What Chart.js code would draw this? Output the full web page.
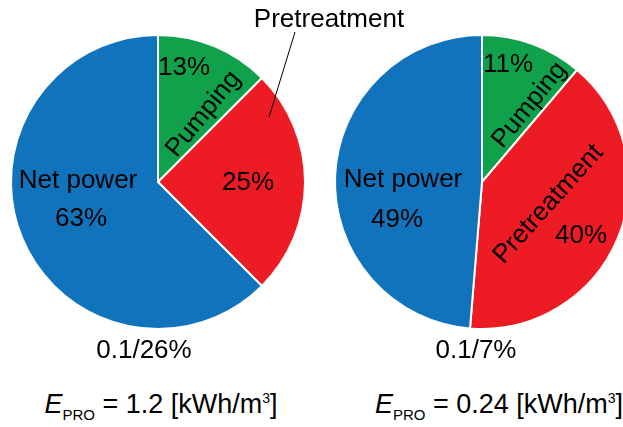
<!DOCTYPE html>
<html>
<head>
<meta charset="utf-8">
<script src="https://cdn.jsdelivr.net/npm/chart.js@4/dist/chart.umd.min.js"></script>
<style>
html, body { margin: 0; padding: 0; width: 623px; height: 427px; overflow: hidden; background: #fff; }
body { position: relative; font-family: "Liberation Sans", Arial, sans-serif; color: #000; }
.box { position: absolute; }
.cap { position: absolute; width: 300px; text-align: center; font-size: 26px; line-height: 30px; white-space: nowrap; }
.cap.energy { font-size: 27px; }
.cap i { font-style: italic; }
.sub { font-size: 15px; position: relative; top: 7px; }
.sup { font-size: 14px; position: relative; top: -10px; }
</style>
</head>
<body>
<div class="box" style="left:0;top:0;width:420px;height:340px"><canvas id="leftPie"></canvas></div>
<div class="box" style="left:320px;top:0;width:320px;height:340px"><canvas id="rightPie"></canvas></div>
<div class="cap" id="leftRatio" style="left:-6px;top:334px"></div>
<div class="cap" id="rightRatio" style="left:326px;top:334px"></div>
<div class="cap energy" id="leftEnergy" style="left:11px;top:389px"></div>
<div class="cap energy" id="rightEnergy" style="left:349px;top:389px"></div>
<script>
const categories = ['Pumping', 'Pretreatment', 'Net power'];
const sliceColors = ['#12a14b', '#ed1c24', '#1273bd'];
const leftShares = [12.5, 25, 62.5];
const rightShares = [11.2, 40.1, 48.7];
const ratioLabels = ['0.1/26%', '0.1/7%'];
const energyValues = ['1.2', '0.24'];

function pct(v) { return Math.round(v) + '%'; }

function sliceLabels(items, leader) {
    return {
        id: 'sliceLabels',
        afterDatasetsDraw: function (chart) {
            const arc = chart.getDatasetMeta(0).data[0];
            const ctx = chart.ctx;
            ctx.save();
            ctx.fillStyle = '#000';
            ctx.font = '26px "Liberation Sans", Arial, sans-serif';
            ctx.textAlign = 'center';
            ctx.textBaseline = 'alphabetic';
            items.forEach(function (it) {
                ctx.save();
                ctx.translate(arc.x + it.dx, arc.y + it.dy);
                ctx.rotate((it.rot || 0) * Math.PI / 180);
                ctx.fillText(it.text, 0, 9);
                ctx.restore();
            });
            if (leader) {
                ctx.strokeStyle = '#000';
                ctx.lineWidth = 1;
                ctx.beginPath();
                ctx.moveTo(arc.x + leader[0], arc.y + leader[1]);
                ctx.lineTo(arc.x + leader[2], arc.y + leader[3]);
                ctx.stroke();
            }
            ctx.restore();
        }
    };
}

function makePie(id, shares, padding, items, leader) {
    new Chart(document.getElementById(id).getContext('2d'), {
        type: 'pie',
        data: {
            labels: categories,
            datasets: [{
                data: shares,
                backgroundColor: sliceColors,
                borderColor: '#fff',
                borderWidth: 2
            }]
        },
        options: {
            responsive: true,
            maintainAspectRatio: false,
            animation: false,
            layout: { padding: padding },
            plugins: {
                legend: { display: false },
                tooltip: { enabled: false }
            }
        },
        plugins: [sliceLabels(items, leader)]
    });
}

makePie('leftPie', leftShares, { left: 10, top: 34, right: 114, bottom: 10 }, [
    { text: pct(leftShares[0]), dx: 26, dy: -116 },
    { text: categories[0], dx: 44, dy: -69, rot: -51 },
    { text: pct(leftShares[1]), dx: 90, dy: -1 },
    { text: categories[2], dx: -80, dy: -3 },
    { text: pct(leftShares[2]), dx: -77, dy: 35 },
    { text: categories[1], dx: 171, dy: -164 }
], [137, -150, 111, -65]);

makePie('rightPie', rightShares, { left: 14, top: 34, right: 10, bottom: 10 }, [
    { text: pct(rightShares[0]), dx: 26, dy: -119 },
    { text: categories[0], dx: 46, dy: -78, rot: -51 },
    { text: categories[1], dx: 65, dy: 21, rot: -48 },
    { text: pct(rightShares[1]), dx: 99, dy: 52 },
    { text: categories[2], dx: -79, dy: -4 },
    { text: pct(rightShares[2]), dx: -85, dy: 36 }
], null);

document.getElementById('leftRatio').textContent = ratioLabels[0];
document.getElementById('rightRatio').textContent = ratioLabels[1];
['leftEnergy', 'rightEnergy'].forEach(function (id, i) {
    document.getElementById(id).innerHTML =
        '<i>E</i><span class="sub">PRO</span> = ' + energyValues[i] +
        ' [kWh/m<span class="sup">3</span>]';
});
</script>
</body>
</html>
